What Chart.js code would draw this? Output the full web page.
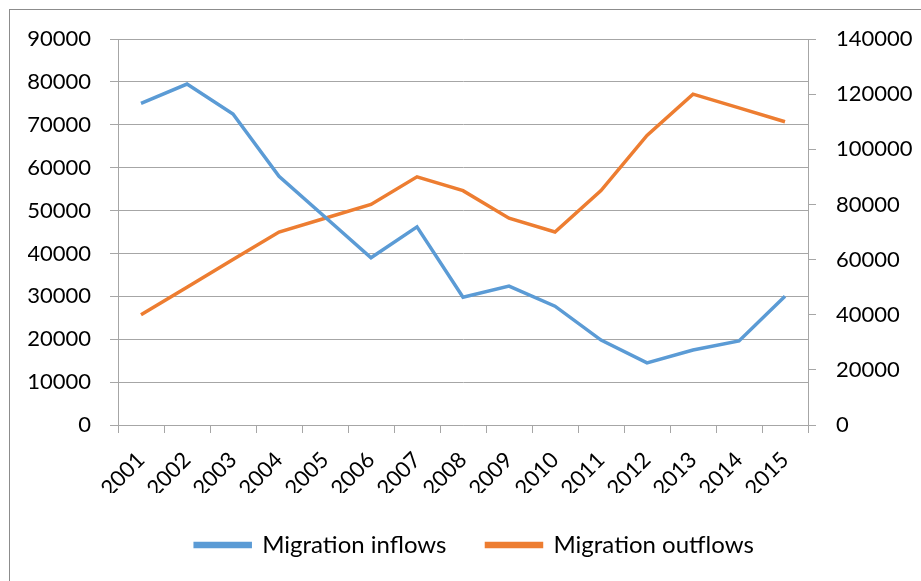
<!DOCTYPE html>
<html>
<head>
<meta charset="utf-8">
<script src="https://cdn.jsdelivr.net/npm/chart.js@4"></script>
<style>
  html, body { margin: 0; padding: 0; background: #fff; overflow: hidden; }
  #frame { position: absolute; left: 9px; top: 9px; width: 1000px; height: 1000px; border: 1px solid #8c8c8c; box-sizing: border-box; }
  #c { position: absolute; left: 0; top: 0; }
</style>
</head>
<body>
<div id="frame"></div>
<canvas id="c" width="921" height="581"></canvas>
<script>
const years = ['2001','2002','2003','2004','2005','2006','2007','2008','2009','2010','2011','2012','2013','2014','2015'];
const inflows = [75000, 79500, 72500, 58000, 48500, 39000, 46200, 29800, 32400, 27700, 19800, 14500, 17500, 19600, 30000];
const outflows = [40000, 50000, 60000, 70000, 75000, 80000, 90000, 85000, 75000, 70000, 85000, 105000, 120000, 115000, 110000];
const leftTicks = { min: 0, max: 90000, step: 10000 };
const rightTicks = { min: 0, max: 140000, step: 20000 };

const FONT = 'Lato';
const gridColor = '#a6a6a6';
const plain = (v) => String(v);

new Chart(document.getElementById('c'), {
  type: 'line',
  data: {
    labels: years,
    datasets: [
      { label: 'Migration inflows', data: inflows, yAxisID: 'y', borderColor: '#5B9BD5', backgroundColor: '#5B9BD5', borderWidth: 3.5, pointRadius: 0, tension: 0 },
      { label: 'Migration outflows', data: outflows, yAxisID: 'y1', borderColor: '#ED7D31', backgroundColor: '#ED7D31', borderWidth: 3.5, pointRadius: 0, tension: 0 }
    ]
  },
  options: {
    responsive: false,
    devicePixelRatio: 1,
    animation: false,
    layout: { padding: { top: 39, left: 28, right: 0, bottom: 14 } },
    plugins: {
      tooltip: { enabled: false },
      legend: {
        position: 'bottom',
        labels: { font: { family: FONT, size: 24 }, color: '#000', boxWidth: 55, boxHeight: 3, padding: 40 }
      }
    },
    scales: {
      x: {
        offset: true,
        grid: { display: true, drawOnChartArea: false, offset: true, drawTicks: true, tickLength: 8, color: gridColor },
        border: { display: true, color: gridColor, width: 1 },
        ticks: { font: { family: FONT, size: 22 }, color: '#000', maxRotation: 45, minRotation: 45, padding: 14, autoSkip: false },
        afterFit: (s) => { s.height = 68; }
      },
      y: {
        position: 'left',
        min: leftTicks.min, max: leftTicks.max,
        grid: { color: gridColor, tickLength: 8, drawTicks: true },
        border: { display: true, color: gridColor },
        ticks: { stepSize: leftTicks.step, font: { family: FONT, size: 22 }, color: '#000', padding: 19, callback: plain },
        afterFit: (s) => { s.width = 90; }
      },
      y1: {
        position: 'right',
        min: rightTicks.min, max: rightTicks.max,
        grid: { drawOnChartArea: false, color: gridColor, tickLength: 8, drawTicks: true },
        border: { display: true, color: gridColor },
        ticks: { stepSize: rightTicks.step, font: { family: FONT, size: 22 }, color: '#000', padding: 20, callback: plain },
        afterFit: (s) => { s.width = 113; }
      }
    }
  }
});
</script>
</body>
</html>
